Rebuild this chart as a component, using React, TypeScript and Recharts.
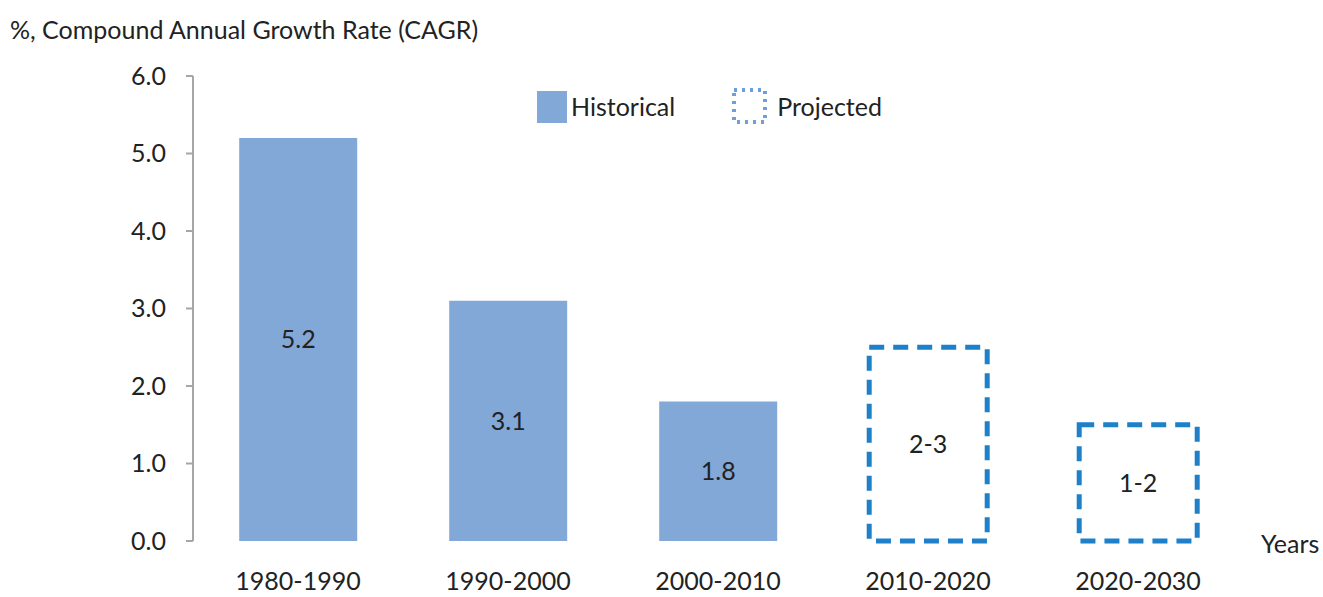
import { Bar, BarChart, LabelList, XAxis, YAxis } from "recharts";

const periods = ["1980-1990", "1990-2000", "2000-2010", "2010-2020", "2020-2030"];
const historical = [5.2, 3.1, 1.8, null, null];
const projected = [null, null, null, 2.5, 1.5];
const projectedLabels = ["", "", "", "2-3", "1-2"];
const yTicks = [0, 1, 2, 3, 4, 5, 6];
const boundaryTicks = [0, 1, 2, 3, 4, 5];

const data = periods.map((period, i) => ({
  period,
  historical: historical[i],
  projected: projected[i],
  projectedLabel: projectedLabels[i],
}));

const FONT = "Lato, 'Noto Sans', sans-serif";
const SIZE = 25;
const TEXT = "#222";
const AXIS = "#a6a6a6";
const FILL = "#82a8d8";
const DASH = "#1d80c9";

function ChartLegend() {
  return (
    <div
      style={{
        position: "absolute",
        left: 535,
        top: 86,
        display: "flex",
        alignItems: "center",
        fontFamily: FONT,
        fontSize: SIZE,
        color: TEXT,
      }}
    >
      <svg width={36} height={38}>
        <rect x={2} y={4} width={30} height={32} fill={FILL} />
      </svg>
      <span>Historical</span>
      <svg width={42} height={40} style={{ marginLeft: 54 }}>
        <rect x={5} y={4} width={31} height={32} fill="none" stroke="#6d9fdc" strokeWidth={4} strokeDasharray="3 5" />
      </svg>
      <span style={{ marginLeft: 6 }}>Projected</span>
    </div>
  );
}

export default function App() {
  return (
    <div style={{ position: "absolute", left: 0, top: 0, width: 1323, height: 597, background: "#fff" }}>
      <div
        style={{
          position: "absolute",
          left: 10,
          top: 14,
          fontFamily: FONT,
          fontSize: SIZE,
          color: TEXT,
        }}
      >
        %, Compound Annual Growth Rate (CAGR)
      </div>
      <BarChart
        width={1323}
        height={597}
        data={data}
        margin={{ top: 76, right: 80, left: 133, bottom: 6 }}
        barCategoryGap="22%"
      >
        <XAxis
          xAxisId="cat"
          dataKey="period"
          height={50}
          axisLine={false}
          tickSize={0}
          tickMargin={31}
          tick={{ fontFamily: FONT, fontSize: SIZE, fill: TEXT }}
          label={{
            content: ({ viewBox }: any) => (
              <text
                x={viewBox.x + viewBox.width + 18}
                y={viewBox.y + 12}
                fontFamily={FONT}
                fontSize={SIZE}
                fill={TEXT}
              >
                Years
              </text>
            ),
          }}
        />
        <XAxis
          xAxisId="edges"
          type="number"
          domain={[0, 5]}
          ticks={boundaryTicks}
          height={0}
          tick={false}
          tickSize={7}
          axisLine={{ stroke: AXIS, strokeWidth: 2 }}
          tickLine={{ stroke: AXIS, strokeWidth: 2 }}
        />
        <YAxis
          width={60}
          domain={[0, 6]}
          ticks={yTicks}
          tickFormatter={(v: number) => v.toFixed(1)}
          tickSize={7}
          tickMargin={20}
          axisLine={{ stroke: AXIS, strokeWidth: 2 }}
          tickLine={{ stroke: AXIS, strokeWidth: 2 }}
          tick={{ fontFamily: FONT, fontSize: SIZE, fill: TEXT }}
        />
        <Bar xAxisId="cat" dataKey="historical" stackId="a" fill={FILL} isAnimationActive={false}>
          <LabelList dataKey="historical" position="center" fontFamily={FONT} fontSize={SIZE} fill={TEXT} />
        </Bar>
        <Bar
          xAxisId="cat"
          dataKey="projected"
          stackId="a"
          fill="#fff"
          stroke={DASH}
          strokeWidth={5}
          strokeDasharray="15 9"
          isAnimationActive={false}
        >
          <LabelList dataKey="projectedLabel" position="center" fontFamily={FONT} fontSize={SIZE} fill={TEXT} />
        </Bar>
      </BarChart>
      <ChartLegend />
    </div>
  );
}
